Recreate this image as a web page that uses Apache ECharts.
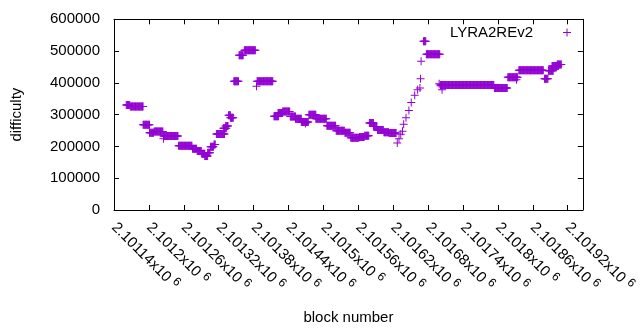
<!DOCTYPE html>
<html>
<head>
<meta charset="utf-8">
<script src="https://cdn.jsdelivr.net/npm/echarts@6/dist/echarts.min.js"></script>
<style>
  html, body { margin: 0; padding: 0; background: #fff; }
  #chart { width: 640px; height: 330px; }
</style>
</head>
<body>
<div id="chart"></div>
<script>
// runs of blocks where difficulty stayed the same: start block, end block, difficulty
var runStart = [2101161, 2101168, 2101190, 2101201, 2101209, 2101225, 2101251, 2101275, 2101283, 2101291,
  2101296, 2101301, 2101306, 2101312, 2101316, 2101328, 2101332, 2101337, 2101340, 2101346,
  2101355, 2101364, 2101386, 2101415, 2101422, 2101430, 2101443, 2101452, 2101462, 2101475,
  2101487, 2101506, 2101522, 2101537, 2101547, 2101562, 2101571, 2101579, 2101586, 2101593,
  2101604, 2101613, 2101672, 2101677, 2101701, 2101794, 2101817, 2101836, 2101880, 2101887,
  2101893, 2101902];
var runEnd = [2101167, 2101190, 2101201, 2101208, 2101224, 2101250, 2101274, 2101282, 2101290, 2101296,
  2101301, 2101305, 2101311, 2101314, 2101330, 2101333, 2101336, 2101340, 2101345, 2101354,
  2101362, 2101383, 2101413, 2101423, 2101430, 2101442, 2101452, 2101462, 2101474, 2101487,
  2101505, 2101521, 2101536, 2101546, 2101561, 2101570, 2101578, 2101586, 2101592, 2101603,
  2101612, 2101625, 2101676, 2101700, 2101793, 2101816, 2101834, 2101878, 2101886, 2101895,
  2101904, 2101909];
var runDiff = [330000, 326000, 268000, 243000, 247000, 233000, 202000, 193000, 186000, 177000,
  170000, 180000, 199000, 206000, 239000, 257000, 264000, 298000, 290000, 405000,
  487000, 503000, 405000, 295000, 305000, 310000, 294000, 287000, 277000, 300000,
  287000, 265000, 249000, 243000, 227000, 230000, 234000, 274000, 263000, 252000,
  245000, 242000, 531000, 490000, 393000, 384000, 418000, 440000, 413000, 438000,
  453000, 458000];

// isolated blocks
var singleBlock = [2101225, 2101385, 2101469, 2101627, 2101630, 2101633, 2101636, 2101638, 2101642, 2101647,
  2101651, 2101657, 2101662, 2101666, 2101667, 2101668, 2101699, 2101702, 2101704, 2101832];
var singleDiff = [224000, 389000, 272000, 211000, 224000, 238000, 248000, 270000, 290000, 313000,
  338000, 361000, 378000, 384000, 413000, 468000, 397000, 391000, 378000, 410000];

var xMin = 2101140, xMax = 2101946, xStep = 60;
var yTicks = [0, 100000, 200000, 300000, 400000, 500000, 600000];

var points = [];
for (var i = 0; i < runStart.length; i++) {
  for (var b = runStart[i]; b <= runEnd[i]; b++) points.push([b, runDiff[i]]);
}
for (var j = 0; j < singleBlock.length; j++) points.push([singleBlock[j], singleDiff[j]]);

var plus = 'path://M3.5,0h1v3.5h3.5v1h-3.5v3.5h-1v-3.5h-3.5v-1h3.5z';
var purple = '#9400d3';
var font = 'Liberation Sans, Arial, sans-serif';

function xLabel(v) {
  if ((v - xMin) % xStep !== 0) return '';
  var s = (v / 1e6).toFixed(5).replace(/0+$/, '');
  return s + 'x10 {s|6}';
}

var frameLine = { show: true, onZero: false, lineStyle: { color: '#000', width: 1 } };
var frameTick = { show: true, inside: true, length: 5, lineStyle: { color: '#000' } };

var chart = echarts.init(document.getElementById('chart'));
chart.setOption({
  animation: false,
  textStyle: { fontFamily: font },
  grid: { left: 114, right: 30.5, top: 19.3, bottom: 119.3 },
  legend: {
    right: 64,
    top: 20,
    align: 'right',
    itemWidth: 8,
    itemHeight: 8,
    icon: plus,
    textStyle: { fontSize: 15, color: '#000', fontFamily: font, padding: [0, 25, 0, 0] },
    data: ['LYRA2REv2']
  },
  xAxis: [{
    type: 'value',
    min: xMin,
    max: xMax,
    interval: xStep,
    name: 'block number',
    nameLocation: 'middle',
    nameGap: 100,
    nameTextStyle: { fontSize: 15, color: '#000', fontFamily: font },
    axisLine: frameLine,
    axisTick: frameTick,
    splitLine: { show: false },
    axisLabel: {
      rotate: -45,
      margin: 15,
      fontSize: 15,
      color: '#000',
      fontFamily: font,
      showMaxLabel: false,
      formatter: xLabel,
      rich: { s: { fontSize: 12, color: '#000', fontFamily: font, padding: [0, 0, 8, 0] } }
    }
  }, {
    type: 'value',
    position: 'top',
    min: xMin,
    max: xMax,
    interval: xStep,
    axisLine: frameLine,
    axisTick: frameTick,
    axisLabel: { show: false },
    splitLine: { show: false }
  }],
  yAxis: [{
    type: 'value',
    min: yTicks[0],
    max: yTicks[yTicks.length - 1],
    interval: 100000,
    name: 'difficulty',
    nameLocation: 'middle',
    nameGap: 90,
    nameTextStyle: { fontSize: 15, color: '#000', fontFamily: font },
    axisLine: frameLine,
    axisTick: frameTick,
    splitLine: { show: false },
    axisLabel: {
      fontSize: 15, color: '#000', fontFamily: font, margin: 14,
      formatter: function (v) { return String(v); }
    }
  }, {
    type: 'value',
    position: 'right',
    min: yTicks[0],
    max: yTicks[yTicks.length - 1],
    interval: 100000,
    axisLine: frameLine,
    axisTick: frameTick,
    axisLabel: { show: false },
    splitLine: { show: false }
  }],
  series: [{
    name: 'LYRA2REv2',
    type: 'scatter',
    symbol: plus,
    symbolSize: 8,
    itemStyle: { color: purple, opacity: 1 },
    data: points
  }]
});
</script>
</body>
</html>
